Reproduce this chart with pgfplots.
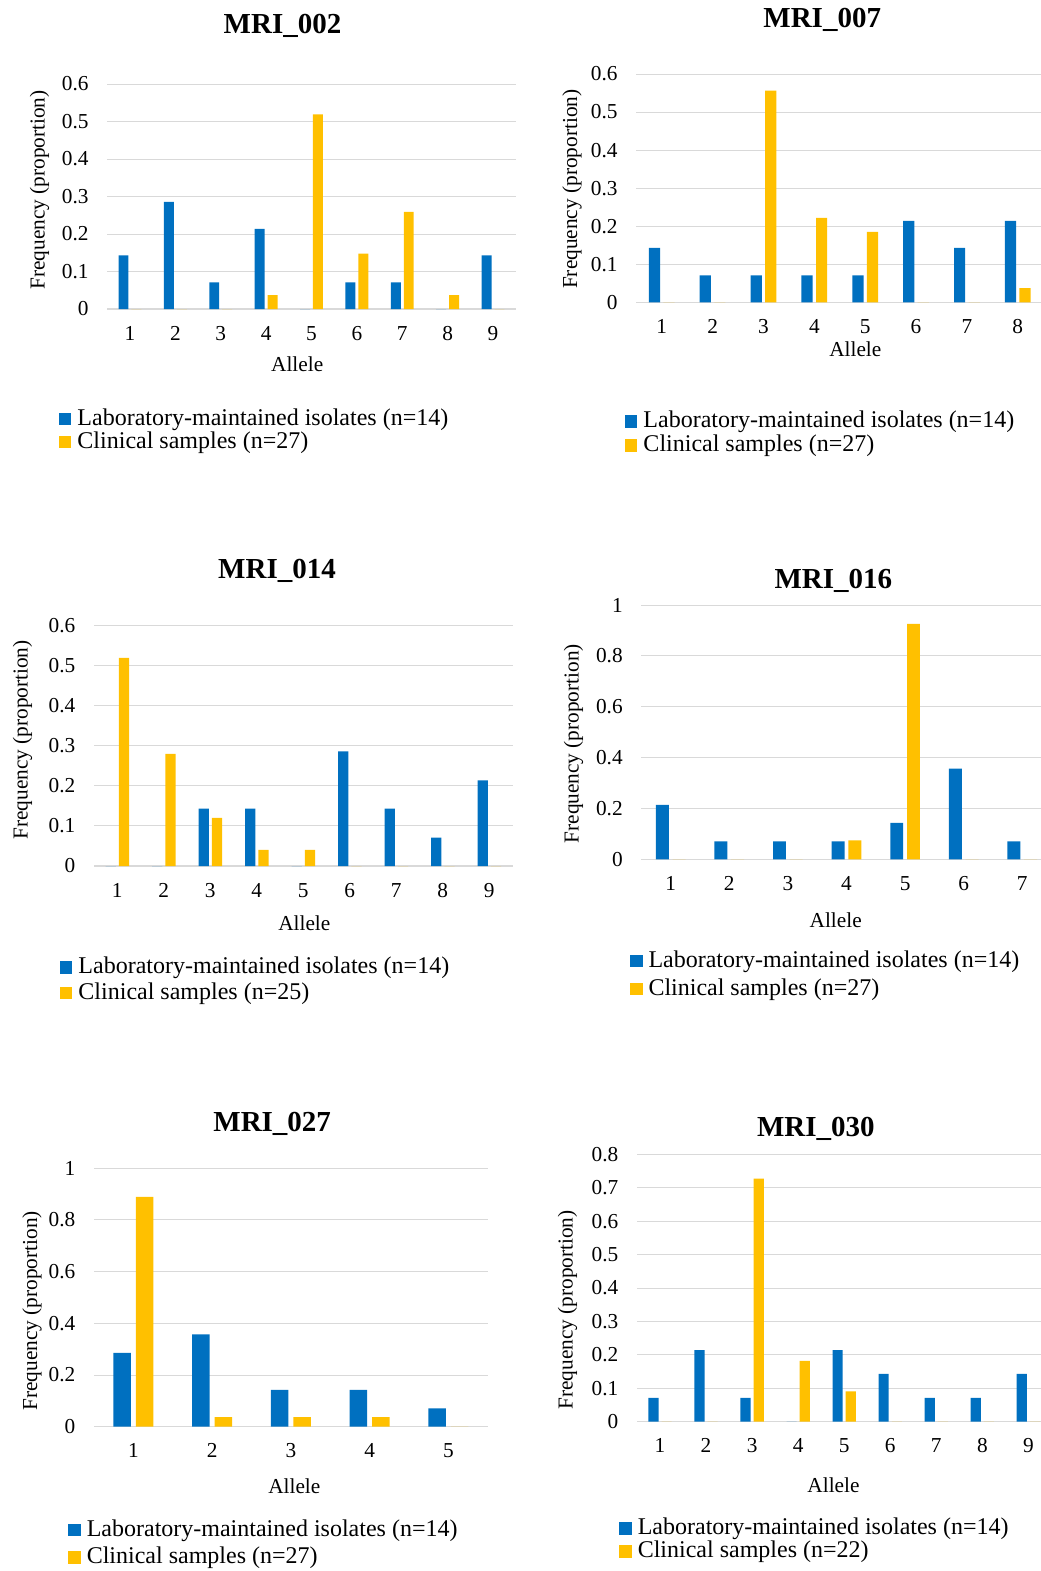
\documentclass[border=0pt]{standalone}
\usepackage{pgfplots}
\pgfplotsset{compat=1.18}
\usepackage{fontspec}
\setmainfont{Liberation Serif}

\definecolor{labblue}{HTML}{0070C0}
\definecolor{clinyel}{HTML}{FFC000}
\definecolor{gridgray}{HTML}{D9D9D9}

\newcommand{\tickfont}{\fontsize{21.3}{24}\selectfont}
\newcommand{\legfont}{\fontsize{24}{27}\selectfont}
\newcommand{\titlefont}{\fontsize{29}{32}\selectfont\bfseries}

\pgfplotsset{
  panel/.style={
    scale only axis, anchor=south west,
    ybar, bar width=0.22,
    ymin=0, enlargelimits=false,
    axis lines*=left,
    x axis line style={draw=gridgray, line width=1.3pt},
    y axis line style={draw=none},
    major tick length=0pt,
    ymajorgrids, grid style={draw=gridgray, line width=1pt},
    /pgf/number format/assume math mode=true,
    tick label style={font=\tickfont, inner sep=0pt},
    xticklabel style={anchor=base, yshift=-31pt},
    yticklabel style={anchor=east, xshift=-18.5pt},
    legend cell align=left,
    legend image code/.code={\fill[##1,draw=none] (0pt,0pt) rectangle (12.5pt,12.5pt); \path (18.5pt,0pt);},
    legend style={draw=none, fill=none, inner sep=0pt, outer sep=0pt, row sep=0pt,
      font=\legfont, anchor=north west},
  },
  lab/.style={fill=labblue, draw=none, bar shift=-0.143},
  cli/.style={fill=clinyel, draw=none, bar shift=0.143},
}

\begin{document}
\begin{tikzpicture}
\useasboundingbox (0pt,0pt) rectangle (1041pt,-1571pt);

% MRI_002
\begin{axis}[panel, at={(107.3pt,-309pt)}, width=408.4pt, height=225pt,
  xmin=0.5, xmax=9.5, ymax=0.6, xtick={1,...,9},
  ytick={0,0.1,0.2,0.3,0.4,0.5,0.6},
  legend style={at={(-0.1183,-0.44)},
    nodes={inner sep=0pt, text height=17pt, text depth=6pt, anchor=base west}}]
\addplot[lab] coordinates {(1,0.143) (2,0.286) (3,0.071) (4,0.214) (5,0) (6,0.071) (7,0.071) (8,0) (9,0.143)};
\addplot[cli] coordinates {(1,0) (2,0) (3,0) (4,0.037) (5,0.519) (6,0.148) (7,0.259) (8,0.037) (9,0)};
\legend{Laboratory-maintained isolates (n=14), Clinical samples (n=27)}
\end{axis}

% MRI_007
\begin{axis}[panel, at={(636.3pt,-302.3pt)}, width=406.9pt, height=228.3pt,
  xmin=0.5, xmax=8.5, ymax=0.6, xtick={1,...,8},
  ytick={0,0.1,0.2,0.3,0.4,0.5,0.6},
  legend style={at={(-0.0278,-0.4761)},
    nodes={inner sep=0pt, text height=17pt, text depth=7pt, anchor=base west}}]
\addplot[lab] coordinates {(1,0.143) (2,0.071) (3,0.071) (4,0.071) (5,0.071) (6,0.214) (7,0.143) (8,0.214)};
\addplot[cli] coordinates {(1,0) (2,0) (3,0.556) (4,0.222) (5,0.185) (6,0) (7,0) (8,0.037)};
\legend{Laboratory-maintained isolates (n=14), Clinical samples (n=27)}
\end{axis}

% MRI_014
\begin{axis}[panel, at={(94.05pt,-866pt)}, width=418.5pt, height=240.3pt,
  xmin=0.5, xmax=9.5, ymax=0.6, xtick={1,...,9},
  ytick={0,0.1,0.2,0.3,0.4,0.5,0.6},
  legend style={at={(-0.0814,-0.3766)},
    nodes={inner sep=0pt, text height=17pt, text depth=8.5pt, anchor=base west}}]
\addplot[lab] coordinates {(1,0) (2,0) (3,0.143) (4,0.143) (5,0) (6,0.286) (7,0.143) (8,0.071) (9,0.214)};
\addplot[cli] coordinates {(1,0.52) (2,0.28) (3,0.12) (4,0.04) (5,0.04) (6,0) (7,0) (8,0) (9,0)};
\legend{Laboratory-maintained isolates (n=14), Clinical samples (n=25)}
\end{axis}

% MRI_016
\begin{axis}[panel, at={(641.4pt,-859.3pt)}, width=410.2pt, height=254.3pt,
  xmin=0.5, xmax=7.5, ymax=1, xtick={1,...,7},
  ytick={0,0.2,0.4,0.6,0.8,1},
  legend style={at={(-0.0278,-0.3567)},
    nodes={inner sep=0pt, text height=17pt, text depth=11pt, anchor=base west}}]
\addplot[lab] coordinates {(1,0.214) (2,0.071) (3,0.071) (4,0.071) (5,0.143) (6,0.357) (7,0.071)};
\addplot[cli] coordinates {(1,0) (2,0) (3,0) (4,0.074) (5,0.926) (6,0) (7,0)};
\legend{Laboratory-maintained isolates (n=14), Clinical samples (n=27)}
\end{axis}

% MRI_027
\begin{axis}[panel, at={(94pt,-1426.7pt)}, width=393.75pt, height=258.4pt,
  xmin=0.5, xmax=5.5, ymax=1, xtick={1,...,5},
  ytick={0,0.2,0.4,0.6,0.8,1},
  legend style={at={(-0.0653,-0.3572)},
    nodes={inner sep=0pt, text height=17pt, text depth=10.5pt, anchor=base west}}]
\addplot[lab] coordinates {(1,0.286) (2,0.357) (3,0.143) (4,0.143) (5,0.071)};
\addplot[cli] coordinates {(1,0.889) (2,0.037) (3,0.037) (4,0.037) (5,0)};
\legend{Laboratory-maintained isolates (n=14), Clinical samples (n=27)}
\end{axis}

% MRI_030
\begin{axis}[panel, at={(637pt,-1421.7pt)}, width=414.4pt, height=267.4pt,
  xmin=0.5, xmax=9.5, ymax=0.8, xtick={1,...,9},
  ytick={0,0.1,0.2,0.3,0.4,0.5,0.6,0.7,0.8},
  legend style={at={(-0.0427,-0.3583)},
    nodes={inner sep=0pt, text height=17pt, text depth=6.3pt, anchor=base west}}]
\addplot[lab] coordinates {(1,0.071) (2,0.214) (3,0.071) (4,0) (5,0.214) (6,0.143) (7,0.071) (8,0.071) (9,0.143)};
\addplot[cli] coordinates {(1,0) (2,0) (3,0.727) (4,0.182) (5,0.091) (6,0) (7,0) (8,0) (9,0)};
\legend{Laboratory-maintained isolates (n=14), Clinical samples (n=22)}
\end{axis}

% titles
\node[anchor=base, font=\titlefont] at (282.5pt,-34pt) {MRI\_002};
\node[anchor=base, font=\titlefont] at (822.2pt,-27.3pt) {MRI\_007};
\node[anchor=base, font=\titlefont] at (277pt,-578.3pt) {MRI\_014};
\node[anchor=base, font=\titlefont] at (833.3pt,-588.3pt) {MRI\_016};
\node[anchor=base, font=\titlefont] at (272.2pt,-1131pt) {MRI\_027};
\node[anchor=base, font=\titlefont] at (815.8pt,-1136.7pt) {MRI\_030};

% x labels
\node[anchor=base, font=\tickfont] at (297.2pt,-371.7pt) {Allele};
\node[anchor=base, font=\tickfont] at (855.3pt,-356.7pt) {Allele};
\node[anchor=base, font=\tickfont] at (304.3pt,-930pt) {Allele};
\node[anchor=base, font=\tickfont] at (835.7pt,-927.7pt) {Allele};
\node[anchor=base, font=\tickfont] at (294.3pt,-1493.3pt) {Allele};
\node[anchor=base, font=\tickfont] at (833.5pt,-1492.7pt) {Allele};

% y labels
\node[anchor=base, rotate=90, font=\tickfont] at (44.7pt,-190pt) {Frequency (proportion)};
\node[anchor=base, rotate=90, font=\tickfont] at (577.1pt,-189.2pt) {Frequency (proportion)};
\node[anchor=base, rotate=90, font=\tickfont] at (27.7pt,-740pt) {Frequency (proportion)};
\node[anchor=base, rotate=90, font=\tickfont] at (578.7pt,-743.7pt) {Frequency (proportion)};
\node[anchor=base, rotate=90, font=\tickfont] at (37.1pt,-1310.8pt) {Frequency (proportion)};
\node[anchor=base, rotate=90, font=\tickfont] at (572.7pt,-1310pt) {Frequency (proportion)};
\end{tikzpicture}
\end{document}
